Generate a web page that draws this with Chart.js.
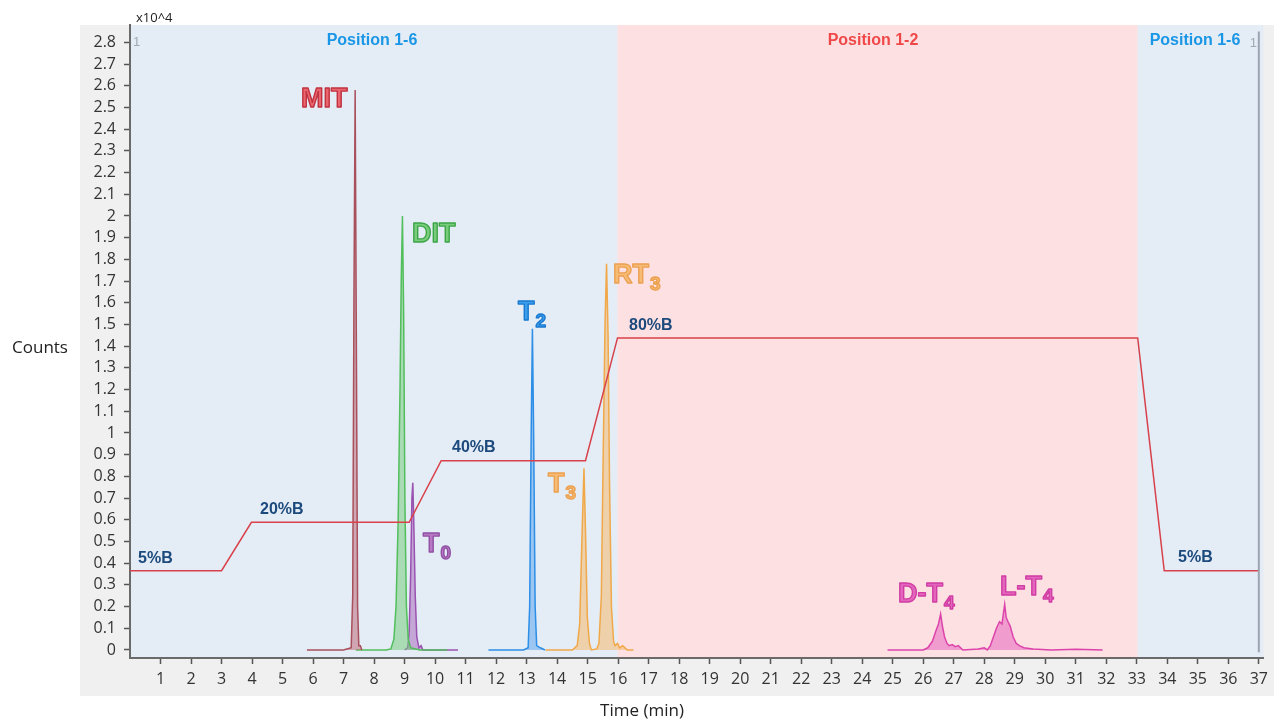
<!DOCTYPE html>
<html>
<head>
<meta charset="utf-8">
<script src="https://cdn.jsdelivr.net/npm/chart.js@4"></script>
<style>
html, body { margin: 0; padding: 0; background: #fff; }
canvas { display: block; }
</style>
</head>
<body>
<canvas id="chromChart" width="1274" height="722"></canvas>
<script>
// axis ticks
const xTicks = [1, 2, 3, 4, 5, 6, 7, 8, 9, 10, 11, 12, 13, 14, 15, 16, 17, 18, 19, 20, 21, 22, 23, 24, 25, 26, 27, 28, 29, 30, 31, 32, 33, 34, 35, 36, 37];
const yTicks = [0, 0.1, 0.2, 0.3, 0.4, 0.5, 0.6, 0.7, 0.8, 0.9, 1, 1.1, 1.2, 1.3, 1.4, 1.5, 1.6, 1.7, 1.8, 1.9, 2, 2.1, 2.2, 2.3, 2.4, 2.5, 2.6, 2.7, 2.8];

// valve position windows (min)
const regionStart = [0, 15.98, 33.03];
const regionEnd = [15.98, 33.03, 37.15];
const regionNames = ["Position 1-6", "Position 1-2", "Position 1-6"];

// mobile phase gradient (%B trace, drawn on the counts scale)
const gradTime = [0, 3.0, 3.98, 9.15, 10.2, 14.93, 15.98, 33.03, 33.9, 37.0];
const gradLevel = [0.365, 0.365, 0.588, 0.588, 0.872, 0.872, 1.438, 1.438, 0.365, 0.365];
const gradNames = ["5%B", "20%B", "40%B", "80%B", "5%B"];

// chromatogram traces (counts x10^4)
const mitTime = [5.8, 7.0, 7.25, 7.3, 7.34, 7.38, 7.42, 7.46, 7.5, 7.55, 7.6];
const mitCounts = [0, 0, 0.01, 0.25, 1.6, 2.58, 1.4, 0.2, 0.02, 0.02, 0];

const ditTime = [7.4, 8.4, 8.55, 8.65, 8.72, 8.79, 8.85, 8.89, 8.93, 8.97, 9.01, 9.06, 9.12, 9.2, 9.5, 10.0, 10.4];
const ditCounts = [0, 0, 0.005, 0.05, 0.2, 0.6, 1.2, 1.7, 2.0, 1.55, 0.7, 0.2, 0.05, 0.01, 0, 0, 0];

const t0Time = [9.0, 9.1, 9.15, 9.2, 9.24, 9.27, 9.3, 9.35, 9.4, 9.47, 9.54, 9.6, 10.0, 10.4, 10.75];
const t0Counts = [0, 0.01, 0.08, 0.35, 0.7, 0.77, 0.6, 0.25, 0.06, 0.01, 0.02, 0, 0, 0, 0];

const t2Time = [11.75, 12.9, 13.05, 13.1, 13.15, 13.19, 13.23, 13.28, 13.33, 13.45, 13.6];
const t2Counts = [0, 0, 0.01, 0.2, 1.0, 1.48, 1.0, 0.2, 0.02, 0.01, 0];

const t3Time = [13.62, 14.5, 14.66, 14.74, 14.82, 14.88, 14.93, 14.99, 15.06, 15.12, 15.3, 15.37, 15.45, 15.51, 15.57, 15.62, 15.67, 15.72, 15.78, 15.85, 15.9, 15.98, 16.05, 16.15, 16.3, 16.5];
const t3Counts = [0, 0, 0.02, 0.12, 0.55, 0.837, 0.55, 0.15, 0.03, 0, 0.005, 0.03, 0.25, 0.9, 1.5, 1.78, 1.45, 0.75, 0.2, 0.04, 0.02, 0.03, 0.01, 0.02, 0, 0];

const t4Time = [24.83, 25.5, 26.0, 26.15, 26.3, 26.42, 26.5, 26.57, 26.63, 26.7, 26.78, 26.85, 26.95, 27.05, 27.15, 27.3, 27.8, 28.0, 28.1, 28.2, 28.3, 28.4, 28.5, 28.58, 28.63, 28.67, 28.72, 28.78, 28.85, 28.95, 29.05, 29.15, 29.3, 29.6, 30.2, 31.0, 31.88];
const t4Counts = [0, 0, 0, 0.01, 0.04, 0.09, 0.12, 0.166, 0.11, 0.06, 0.03, 0.02, 0.025, 0.015, 0.02, 0, 0.005, 0.01, 0, 0.02, 0.06, 0.1, 0.13, 0.12, 0.17, 0.21, 0.15, 0.13, 0.11, 0.06, 0.03, 0.02, 0.01, 0.005, 0, 0.003, 0];

const toPoints = (xs, ys) => xs.map((v, i) => ({ x: v, y: ys[i] }));

function trace(label, xs, ys, line, fill) {
    return {
        label,
        data: toPoints(xs, ys),
        borderColor: line,
        backgroundColor: fill,
        borderWidth: 1.5,
        fill: "origin",
        pointRadius: 0,
        tension: 0
    };
}

const regionColors = ["#e4ecf6", "#fde0e2", "#e4ecf6"];
const regionTextColors = ["#1a96e6", "#f04848", "#1a96e6"];

// peak / annotation text (pixel anchors: left edge, baseline)
const peakLabels = [
    { main: "MIT", sub: "", px: 301, py: 107, fill: "#ea6670", stroke: "#c0323e" },
    { main: "DIT", sub: "", px: 412, py: 242, fill: "#78cc7c", stroke: "#3ea648" },
    { main: "T", sub: "0", px: 423, py: 552, fill: "#b878c4", stroke: "#9050a4" },
    { main: "T", sub: "2", px: 518, py: 320, fill: "#3aa0ec", stroke: "#1a78d0" },
    { main: "T", sub: "3", px: 548, py: 492, fill: "#f6bc76", stroke: "#eca050" },
    { main: "RT", sub: "3", px: 613, py: 283, fill: "#f6bc76", stroke: "#eca050" },
    { main: "D-T", sub: "4", px: 898, py: 602, fill: "#e466bc", stroke: "#d03ca4" },
    { main: "L-T", sub: "4", px: 1000, py: 595, fill: "#e466bc", stroke: "#d03ca4" }
];
const gradLabelPos = [[138, 563], [260, 514], [452, 452], [629, 330], [1178, 562]];
const regionLabelX = [372, 873, 1195];

const backdrop = {
    id: "backdrop",
    beforeDraw(chart) {
        const { ctx, chartArea: a, scales: { x } } = chart;
        ctx.save();
        ctx.fillStyle = "#f0f0f0";
        ctx.fillRect(80, a.top, chart.width - 80, 696 - a.top);
        regionStart.forEach((s, i) => {
            const x1 = x.getPixelForValue(s);
            const x2 = x.getPixelForValue(regionEnd[i]);
            ctx.fillStyle = regionColors[i];
            ctx.fillRect(x1, a.top, x2 - x1, a.bottom - a.top);
        });
        ctx.restore();
    },
    afterDraw(chart) {
        const { ctx, scales: { x, y } } = chart;
        ctx.save();
        // cursor marker at the right
        const cx = x.getPixelForValue(37);
        ctx.strokeStyle = "#9ba4b0";
        ctx.lineWidth = 2;
        ctx.beginPath();
        ctx.moveTo(cx, y.getPixelForValue(2.85));
        ctx.lineTo(cx, y.getPixelForValue(-0.01));
        ctx.stroke();
        ctx.fillStyle = "#a0a8b2";
        ctx.font = "13px 'Liberation Sans'";
        ctx.textAlign = "left";
        ctx.textBaseline = "alphabetic";
        ctx.fillText("1", cx - 9, 47);
        ctx.fillText("1", 133, 46);

        // valve position names
        ctx.font = "bold 16px 'Liberation Sans'";
        ctx.textAlign = "center";
        ctx.textBaseline = "middle";
        regionNames.forEach((n, i) => {
            ctx.fillStyle = regionTextColors[i];
            ctx.fillText(n, regionLabelX[i], 41);
        });

        // gradient labels
        ctx.font = "bold 16px 'Liberation Sans'";
        ctx.textAlign = "left";
        ctx.textBaseline = "alphabetic";
        ctx.fillStyle = "#1d4a7c";
        gradNames.forEach((n, i) => ctx.fillText(n, gradLabelPos[i][0], gradLabelPos[i][1]));

        // peak labels, outlined
        ctx.lineJoin = "round";
        peakLabels.forEach(l => {
            ctx.font = "bold 27px 'Liberation Sans'";
            ctx.fillStyle = l.fill;
            ctx.strokeStyle = l.stroke;
            ctx.lineWidth = 1.4;
            ctx.fillText(l.main, l.px, l.py);
            ctx.strokeText(l.main, l.px, l.py);
            if (l.sub) {
                const w = ctx.measureText(l.main).width;
                ctx.font = "bold 19px 'Liberation Sans'";
                ctx.fillText(l.sub, l.px + w + 1, l.py + 7);
                ctx.strokeText(l.sub, l.px + w + 1, l.py + 7);
            }
        });

        // axis captions
        ctx.fillStyle = "#222";
        ctx.font = "17px 'Open Sans'";
        ctx.textAlign = "center";
        ctx.textBaseline = "middle";
        ctx.fillText("Counts", 40, 348);
        ctx.fillText("Time (min)", 642, 711);
        ctx.font = "13px 'Open Sans'";
        ctx.textAlign = "left";
        ctx.fillText("x10^4", 136, 18);
        ctx.restore();
    }
};

const chart = new Chart(document.getElementById("chromChart"), {
    type: "line",
    data: {
        datasets: [
            {
                label: "%B",
                data: toPoints(gradTime, gradLevel),
                borderColor: "#d8404a",
                borderWidth: 1.5,
                fill: false,
                pointRadius: 0,
                tension: 0
            },
            trace("MIT", mitTime, mitCounts, "#a8505c", "rgba(190,110,120,0.55)"),
            trace("DIT", ditTime, ditCounts, "#52be5c", "rgba(120,205,125,0.55)"),
            trace("T0", t0Time, t0Counts, "#9a52b0", "rgba(170,110,190,0.55)"),
            trace("T2", t2Time, t2Counts, "#2c8ee6", "rgba(80,160,235,0.5)"),
            trace("T3/RT3", t3Time, t3Counts, "#f0a848", "rgba(245,185,110,0.55)"),
            trace("T4", t4Time, t4Counts, "#dc44ac", "rgba(230,100,190,0.55)")
        ]
    },
    options: {
        responsive: false,
        animation: false,
        devicePixelRatio: 1,
        layout: { padding: { top: 25, right: 8, left: 0, bottom: 0 } },
        plugins: { legend: { display: false }, tooltip: { enabled: false } },
        scales: {
            x: {
                type: "linear",
                min: 0,
                max: 37.15,
                afterFit(scale) { scale.height = 64; },
                afterBuildTicks(scale) { scale.ticks = xTicks.map(v => ({ value: v })); },
                ticks: {
                    autoSkip: false,
                    maxRotation: 0,
                    padding: 6,
                    color: "#333",
                    font: { family: "'Open Sans'", size: 16 },
                    callback: v => String(v)
                },
                grid: { drawOnChartArea: false, drawTicks: true, tickLength: 6, tickColor: "#555", tickWidth: 1.5 },
                border: { display: true, color: "#6a6a6a", width: 2 }
            },
            y: {
                type: "linear",
                min: -0.037,
                max: 2.88,
                afterFit(scale) { scale.width = 130; },
                afterBuildTicks(scale) { scale.ticks = yTicks.map(v => ({ value: v })); },
                ticks: {
                    padding: 8,
                    color: "#333",
                    font: { family: "'Open Sans'", size: 16 },
                    callback: v => String(Math.round(v * 10) / 10)
                },
                grid: { drawOnChartArea: false, drawTicks: true, tickLength: 6, tickColor: "#555", tickWidth: 1.5 },
                border: { display: true, color: "#6a6a6a", width: 2 }
            }
        }
    },
    plugins: [backdrop]
});
</script>
</body>
</html>
